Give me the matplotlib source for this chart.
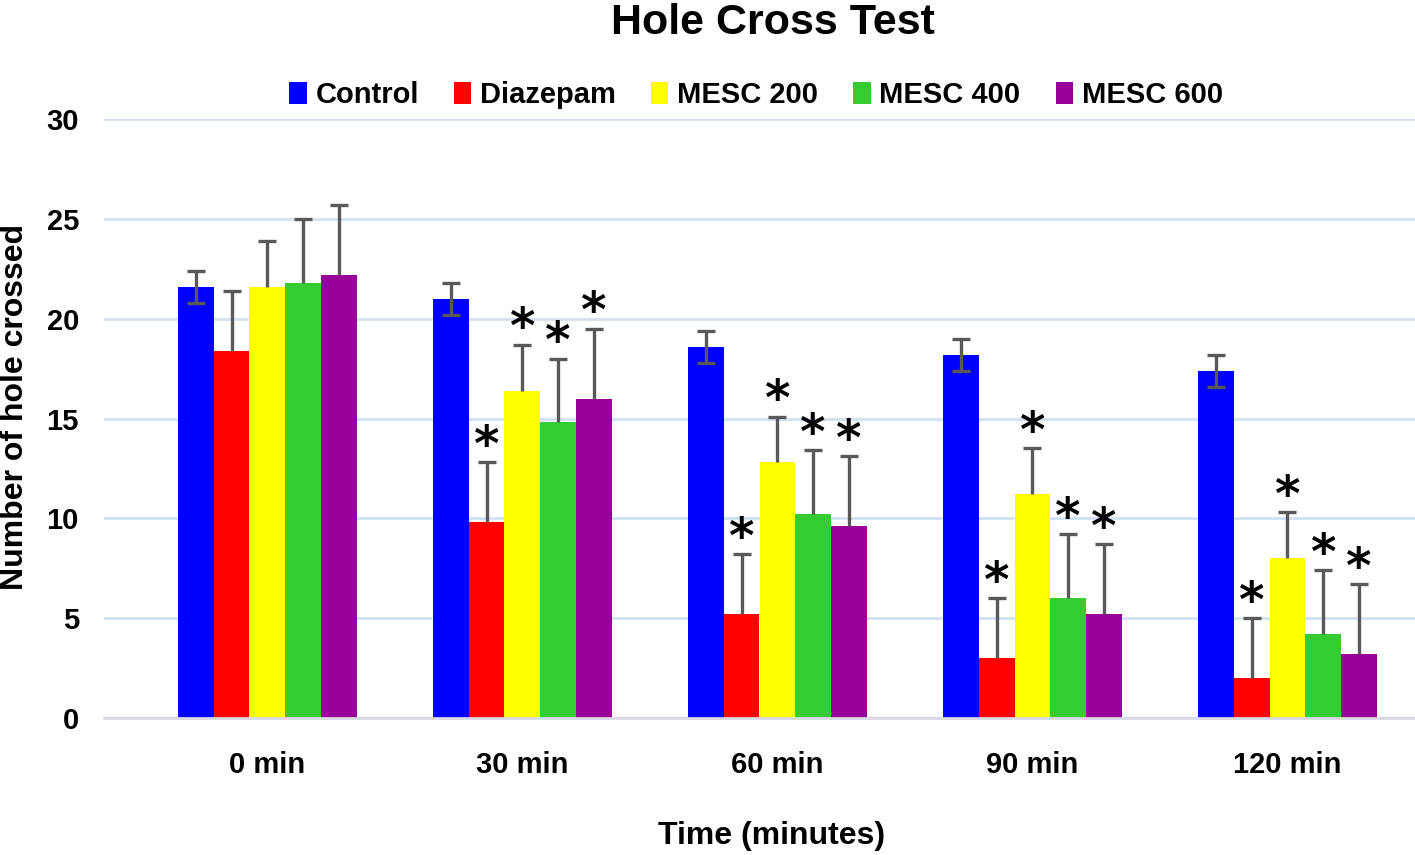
import numpy as np
import matplotlib
matplotlib.use("Agg")
import matplotlib.pyplot as plt

plt.rcParams['font.family'] = ['Liberation Sans Narrow', 'Liberation Sans', 'DejaVu Sans']
plt.rcParams['font.weight'] = 'bold'

times = ["0 min", "30 min", "60 min", "90 min", "120 min"]
groups = ["Control", "Diazepam", "MESC 200", "MESC 400", "MESC 600"]
colors = ["#0000ff", "#ff0000", "#ffff00", "#33cc33", "#990099"]

control = [21.6, 21.0, 18.6, 18.2, 17.4]
diazepam = [18.4, 9.8, 5.2, 3.0, 2.0]
mesc200 = [21.6, 16.4, 12.8, 11.2, 8.0]
mesc400 = [21.8, 14.8, 10.2, 6.0, 4.2]
mesc600 = [22.2, 16.0, 9.6, 5.2, 3.2]
values = [control, diazepam, mesc200, mesc400, mesc600]

# error bar size per group (control is drawn both ways, the rest only upward)
errors = [0.8, 3.0, 2.3, 3.2, 3.5]

# significance stars (1 = star)
control_sig = [0, 0, 0, 0, 0]
diazepam_sig = [0, 1, 1, 1, 1]
mesc200_sig = [0, 1, 1, 1, 1]
mesc400_sig = [0, 1, 1, 1, 1]
mesc600_sig = [0, 1, 1, 1, 1]
stars = [control_sig, diazepam_sig, mesc200_sig, mesc400_sig, mesc600_sig]

fig = plt.figure(figsize=(14.15, 8.55), dpi=100)
ax = fig.add_axes([104 / 1415, (855 - 718) / 855, 1 - 104 / 1415, (718 - 119) / 855])

x = np.arange(len(times))
width = 0.14
err_color = "#595959"

for i, (name, vals) in enumerate(zip(groups, values)):
    xs = x + (i - 2) * width
    vals = np.array(vals)
    ax.bar(xs, vals, width=width, color=colors[i], label=name, zorder=2)
    up = np.full(len(vals), errors[i])
    if i == 0:
        low = up
    else:
        low = np.zeros(len(vals))
    ax.errorbar(xs, vals, yerr=[low, up], fmt='none', ecolor=err_color,
                elinewidth=2.4, capsize=0, zorder=3)
    ax.plot(xs, vals + up, linestyle='none', marker='_', markersize=13,
            mew=2.4, color=err_color, zorder=3)
    if i == 0:
        ax.plot(xs, vals - low, linestyle='none', marker='_', markersize=13,
                mew=2.4, color=err_color, zorder=3)
    for j in range(len(vals)):
        if stars[i][j]:
            ax.annotate('*', xy=(xs[j], vals[j] + up[j]), xytext=(0, 11),
                        textcoords='offset points', ha='center', va='center',
                        fontsize=35, fontweight='bold', family=['DejaVu Sans'],
                        color='black', annotation_clip=False)

ax.set_xlim(-0.64, 4.5)
ax.set_ylim(0, 30)
ax.set_yticks(range(0, 31, 5))
ax.set_xticks(x)
ax.set_xticklabels(times)
ax.tick_params(axis='both', length=0, labelsize=21)
ax.tick_params(axis='y', pad=18)
ax.tick_params(axis='x', pad=24)

ax.grid(axis='y', color='#d2e1f2', linewidth=2, zorder=0)
ax.set_axisbelow(True)
for s in ['top', 'right', 'left']:
    ax.spines[s].set_visible(False)
ax.spines['bottom'].set_color('#d9d9e6')
ax.spines['bottom'].set_linewidth(2)

fig.text(773 / 1415, 1 - 23 / 855, "Hole Cross Test", ha='center', va='center',
         fontsize=31, fontweight='bold')
fig.text(15 / 1415, 1 - 407 / 855, "Number of hole crossed", rotation=90,
         ha='center', va='center', fontsize=23, fontweight='bold')
fig.text(772 / 1415, 1 - 836 / 855, "Time (minutes)", ha='center', va='center',
         fontsize=23, fontweight='bold')

fig.legend(loc='center', bbox_to_anchor=(756 / 1415, 1 - 95 / 855), ncol=5,
           frameon=False, fontsize=21, handlelength=0.6, handleheight=0.8,
           handletextpad=0.3, columnspacing=1.2)

fig.savefig("out.png", dpi=100)
